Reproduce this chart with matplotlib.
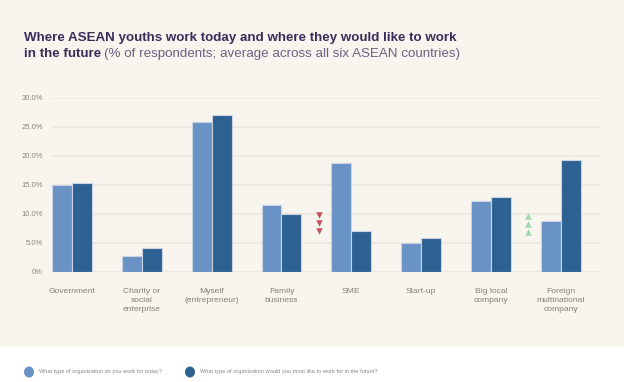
import matplotlib
matplotlib.use("Agg")
import matplotlib.pyplot as plt
import numpy as np

categories = ["Government", "Charity or\nsocial\nenterprise", "Myself\n(entrepreneur)",
              "Family\nbusiness", "SME", "Start-up", "Big local\ncompany",
              "Foreign\nmultinational\ncompany"]
today = [14.9, 2.7, 25.8, 11.6, 18.7, 5.0, 12.2, 8.7]
future = [15.4, 4.1, 27.1, 9.9, 7.1, 5.8, 12.9, 19.2]
yticks = [0, 5, 10, 15, 20, 25, 30]
ytick_labels = ["0%", "5.0%", "10.0%", "15.0%", "20.0%", "25.0%", "30.0%"]
legend_labels = ["What type of organization do you work for today?",
                 "What type of organization would you most like to work for in the future?"]
down_cat = 4   # SME: decline
up_cat = 7     # Foreign multinational: increase

BG = "#f8f4ee"
C_TODAY = "#6a93c5"
C_FUT = "#2c6191"
FONT = "Liberation Sans"
plt.rcParams["font.family"] = [FONT, "DejaVu Sans"]

fig = plt.figure(figsize=(6.24, 3.82), dpi=100)
fig.patch.set_facecolor("white")
W, H = 624, 382
# cream background panel
fig.patches.append(plt.Rectangle((0, 1 - 347 / H), 1, 347 / H, transform=fig.transFigure,
                                 facecolor=BG, edgecolor="none", zorder=-5))

ax_l, ax_r = 51.7, 600
ax_t, ax_b = 97.7, 272
ax = fig.add_axes([ax_l / W, 1 - ax_b / H, (ax_r - ax_l) / W, (ax_b - ax_t) / H])
ax.set_facecolor("none")
ax.set_zorder(2)

x = np.arange(len(categories))
bw = 0.286
ax.bar(x - bw / 2, today, bw, color=C_TODAY, edgecolor="#c9d3e3", linewidth=0.8, zorder=3)
ax.bar(x + bw / 2, future, bw, color=C_FUT, edgecolor="#c9d3e3", linewidth=0.8, zorder=3)

ax.set_xlim(-0.29, 7.56)
ax.set_ylim(0, 30)
ax.set_yticks(yticks)
ax.set_yticklabels(ytick_labels, fontsize=5.5, color="#8a8580")
ax.yaxis.grid(True, color="#ebe6df", linewidth=1.2, zorder=0)
ax.set_axisbelow(True)
ax.tick_params(axis="y", length=0, pad=6.5)
ax.set_xticks(x)
ax.set_xticklabels(categories, fontsize=6.1, color="#858079", linespacing=1.42, va="top")
ax.tick_params(axis="x", length=0, pad=11.5)
for s in ax.spines.values():
    s.set_visible(False)

# trend markers
off = 0.47
for yy in [9.8, 8.4, 7.0]:
    ax.scatter(down_cat - off, yy, marker="v", s=22, color="#c4515f", zorder=4, linewidths=0)
for yy in [9.7, 8.3, 6.9]:
    ax.scatter(up_cat - off, yy, marker="^", s=22, color="#a3d4ae", zorder=4, linewidths=0)

# title
TS = 9.65
fig.text(24 / W, 1 - 37.5 / H, "Where ASEAN youths work today and where they would like to work",
         fontsize=TS, color="#3b2d5a", fontweight="bold", va="center", ha="left")
t1 = fig.text(24 / W, 1 - 54 / H, "in the future", fontsize=TS, color="#3b2d5a",
              fontweight="bold", va="center", ha="left")
fig.canvas.draw()
bb = t1.get_window_extent()
fig.text(bb.x1 / W + 3 / W, 1 - 54 / H,
         "(% of respondents; average across all six ASEAN countries)",
         fontsize=TS, color="#6b6280", va="center", ha="left")

# legend
for cx, col, lab in [(29, C_TODAY, legend_labels[0]), (190, C_FUT, legend_labels[1])]:
    fig.patches.append(matplotlib.patches.Ellipse((cx / W, 1 - 372 / H), 10 / W, 11 / H,
                                                  transform=fig.transFigure, facecolor=col,
                                                  edgecolor="none"))
    fig.text((cx + 10) / W, 1 - 372 / H, lab, fontsize=4.05, color="#8a8580",
             va="center", ha="left")

fig.savefig("out.png", dpi=100, facecolor=fig.get_facecolor())
